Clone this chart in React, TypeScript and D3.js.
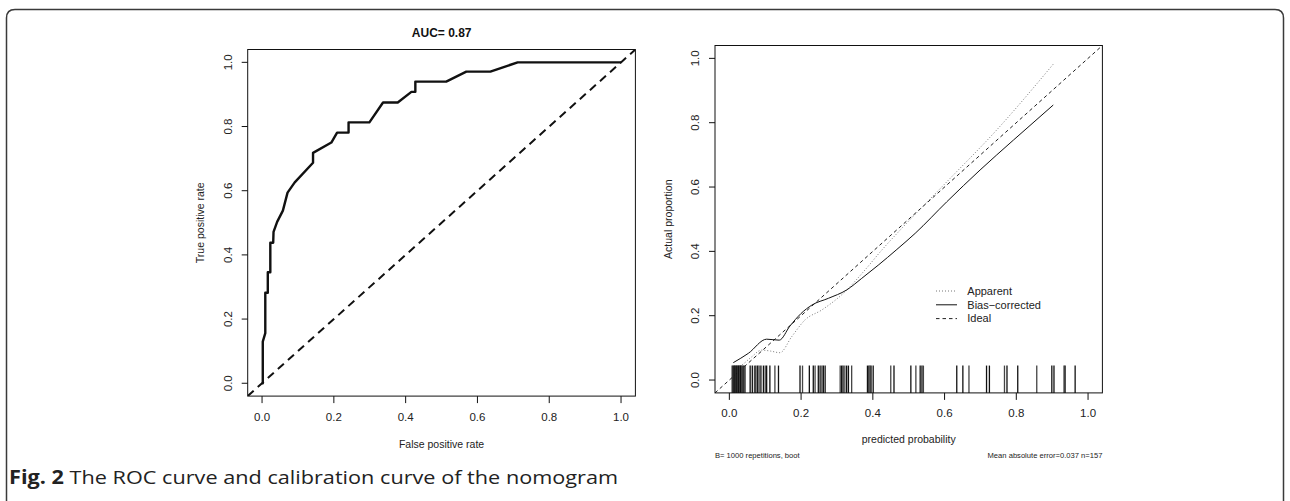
import React from 'react'
import * as d3 from 'd3'

// ROC curve points
const rocFpr = [0, 0.002, 0.002, 0.009, 0.009, 0.016, 0.016, 0.023, 0.023, 0.031, 0.032, 0.042, 0.058, 0.071, 0.091, 0.142, 0.142, 0.193, 0.209, 0.241, 0.241, 0.299, 0.337, 0.378, 0.416, 0.427, 0.427, 0.513, 0.569, 0.636, 0.712, 1.0]
const rocTpr = [0, 0, 0.13, 0.156, 0.282, 0.282, 0.346, 0.346, 0.438, 0.438, 0.472, 0.503, 0.538, 0.594, 0.626, 0.687, 0.718, 0.75, 0.781, 0.781, 0.813, 0.813, 0.875, 0.875, 0.908, 0.908, 0.94, 0.94, 0.971, 0.971, 1.0, 1.0]

// calibration curves (right panel)
const apparentX = [0.014, 0.035, 0.06, 0.09, 0.115, 0.141, 0.174, 0.211, 0.258, 0.323, 0.378, 0.425, 0.481, 0.606, 0.745, 0.903]
const apparentY = [0.035, 0.047, 0.07, 0.093, 0.09, 0.085, 0.135, 0.187, 0.218, 0.275, 0.342, 0.404, 0.472, 0.616, 0.777, 0.982]
const biasX = [0.011, 0.053, 0.104, 0.139, 0.169, 0.2, 0.23, 0.276, 0.327, 0.369, 0.415, 0.467, 0.518, 0.606, 0.699, 0.792, 0.903]
const biasY = [0.054, 0.083, 0.127, 0.124, 0.168, 0.207, 0.233, 0.254, 0.28, 0.316, 0.357, 0.406, 0.456, 0.554, 0.653, 0.746, 0.855]

// predicted probabilities shown as a rug
const rugValues = [
  0.008, 0.011, 0.013, 0.015, 0.017, 0.019, 0.021, 0.023, 0.025, 0.027, 0.029, 0.031, 0.033, 0.035, 0.038, 0.041, 0.044,
  0.058, 0.064, 0.07, 0.074, 0.079, 0.083, 0.088, 0.095, 0.1, 0.104, 0.113, 0.127, 0.137,
  0.197, 0.204, 0.223, 0.234, 0.239, 0.248, 0.253, 0.258, 0.262, 0.267,
  0.309, 0.313, 0.317, 0.322, 0.327, 0.332, 0.341,
  0.385, 0.389, 0.392, 0.395, 0.401, 0.45, 0.459, 0.506, 0.52, 0.532, 0.537, 0.541,
  0.634, 0.651, 0.668, 0.717, 0.725, 0.767, 0.774, 0.804, 0.857, 0.899, 0.905, 0.933, 0.936, 0.964
]

const ticks = [0, 0.2, 0.4, 0.6, 0.8, 1.0]
const legendItems = ['Apparent', 'Bias\u2212corrected', 'Ideal']

const FONT = 'Liberation Sans, Arial, Helvetica, sans-serif'

function Axes({ x, y, xLabel, yLabel, xLabelY, yLabelX, yTickX, xTickY }) {
  const [x0, x1] = x.range()
  const [y0, y1] = y.range()
  return (
    <g fontFamily={FONT} fill="#222">
      <rect x={x0} y={y1} width={x1 - x0} height={y0 - y1} fill="none" stroke="#111" strokeWidth={1} />
      {ticks.map(t => (
        <g key={'x' + t}>
          <line x1={x(t)} x2={x(t)} y1={y0} y2={y0 + 7} stroke="#111" />
          <text x={x(t)} y={xTickY} fontSize={11.5} textAnchor="middle">{t.toFixed(1)}</text>
        </g>
      ))}
      {ticks.map(t => (
        <g key={'y' + t}>
          <line x1={x0 - 6} x2={x0} y1={y(t)} y2={y(t)} stroke="#111" />
          <text transform={`translate(${yTickX},${y(t)}) rotate(-90)`} fontSize={11.5} textAnchor="middle" dy="0.35em">{t.toFixed(1)}</text>
        </g>
      ))}
      <text x={(x0 + x1) / 2} y={xLabelY} fontSize={10.5} textAnchor="middle">{xLabel}</text>
      <text transform={`translate(${yLabelX},${(y0 + y1) / 2}) rotate(-90)`} fontSize={10.5} textAnchor="middle" dy="0.35em">{yLabel}</text>
    </g>
  )
}

export default function App() {
  const xL = d3.scaleLinear().domain([-0.04, 1.04]).range([247.7, 635.4])
  const yL = d3.scaleLinear().domain([-0.04, 1.04]).range([396.1, 49.5])
  const xR = d3.scaleLinear().domain([-0.04, 1.04]).range([715, 1102.4])
  const yR = d3.scaleLinear().domain([-0.04, 1.04]).range([392.9, 45.5])

  const rocLine = d3.line().x(d => xL(d[0])).y(d => yL(d[1]))
  const rocPath = rocLine(rocFpr.map((f, i) => [f, rocTpr[i]]))

  const calLine = d3.line().x(d => xR(d[0])).y(d => yR(d[1])).curve(d3.curveMonotoneX)
  const appPath = calLine(apparentX.map((v, i) => [v, apparentY[i]]))
  const biasPath = calLine(biasX.map((v, i) => [v, biasY[i]]))

  const legendStyles = [
    { stroke: '#777', dash: '1 2' },
    { stroke: '#111', dash: null },
    { stroke: '#222', dash: '3.5 3' }
  ]

  return (
    <svg width={1290} height={501} style={{ position: 'absolute', left: 0, top: 0, display: 'block' }}>
      <rect width={1290} height={501} fill="#fff" />
      <path d="M6.5,520 V18 Q6.5,9.5 15,9.5 H1275 Q1283.5,9.5 1283.5,18 V520" fill="none" stroke="#3a3a3a" strokeWidth={1.5} />

      <defs>
        <clipPath id="clipL"><rect x={247.7} y={49.5} width={387.7} height={346.6} /></clipPath>
        <clipPath id="clipR"><rect x={715} y={45.5} width={387.4} height={347.4} /></clipPath>
      </defs>

      {/* left: ROC */}
      <text x={441.7} y={37} fontFamily={FONT} fontSize={12} fontWeight="bold" textAnchor="middle" fill="#111">AUC= 0.87</text>
      <line clipPath="url(#clipL)" x1={xL(-0.04)} y1={yL(-0.04)} x2={xL(1.04)} y2={yL(1.04)} stroke="#111" strokeWidth={2} strokeDasharray="8 5.5" />
      <path d={rocPath} fill="none" stroke="#111" strokeWidth={2.4} strokeLinejoin="round" />
      <Axes x={xL} y={yL} xLabel="False positive rate" yLabel="True positive rate" xLabelY={448} yLabelX={200.7} yTickX={228} xTickY={421} />

      {/* right: calibration */}
      <line clipPath="url(#clipR)" x1={xR(-0.04)} y1={yR(-0.04)} x2={xR(1.04)} y2={yR(1.04)} stroke="#222" strokeWidth={1} strokeDasharray="3.5 3" />
      <path d={appPath} fill="none" stroke="#777" strokeWidth={1} strokeDasharray="1 2" />
      <path d={biasPath} fill="none" stroke="#111" strokeWidth={1} />
      {rugValues.map((v, i) => (
        <line key={i} x1={xR(v)} x2={xR(v)} y1={yR(-0.04)} y2={yR(0.045)} stroke={i % 3 === 1 ? '#444' : '#111'} strokeWidth={1.3} />
      ))}
      <Axes x={xR} y={yR} xLabel="predicted probability" yLabel="Actual proportion" xLabelY={443} yLabelX={668} yTickX={695} xTickY={417} />
      {legendItems.map((name, i) => (
        <g key={name}>
          <line x1={936} x2={957} y1={291 + i * 13.8} y2={291 + i * 13.8} stroke={legendStyles[i].stroke} strokeDasharray={legendStyles[i].dash || undefined} />
          <text x={967.3} y={291 + i * 13.8} dy="0.35em" fontFamily={FONT} fontSize={11} fill="#222">{name}</text>
        </g>
      ))}
      <text x={715} y={457.5} fontFamily={FONT} fontSize={7.6} fill="#222">B= 1000 repetitions, boot</text>
      <text x={1102.4} y={457.5} fontFamily={FONT} fontSize={7.6} fill="#222" textAnchor="end">Mean absolute error=0.037 n=157</text>

      {/* caption */}
      <text x={9} y={484} fontFamily="Open Sans, Noto Sans, sans-serif" fontSize={19} fill="#222" textLength={609} lengthAdjust="spacingAndGlyphs">
        <tspan fontWeight="bold">Fig. 2</tspan> The ROC curve and calibration curve of the nomogram
      </text>
    </svg>
  )
}
